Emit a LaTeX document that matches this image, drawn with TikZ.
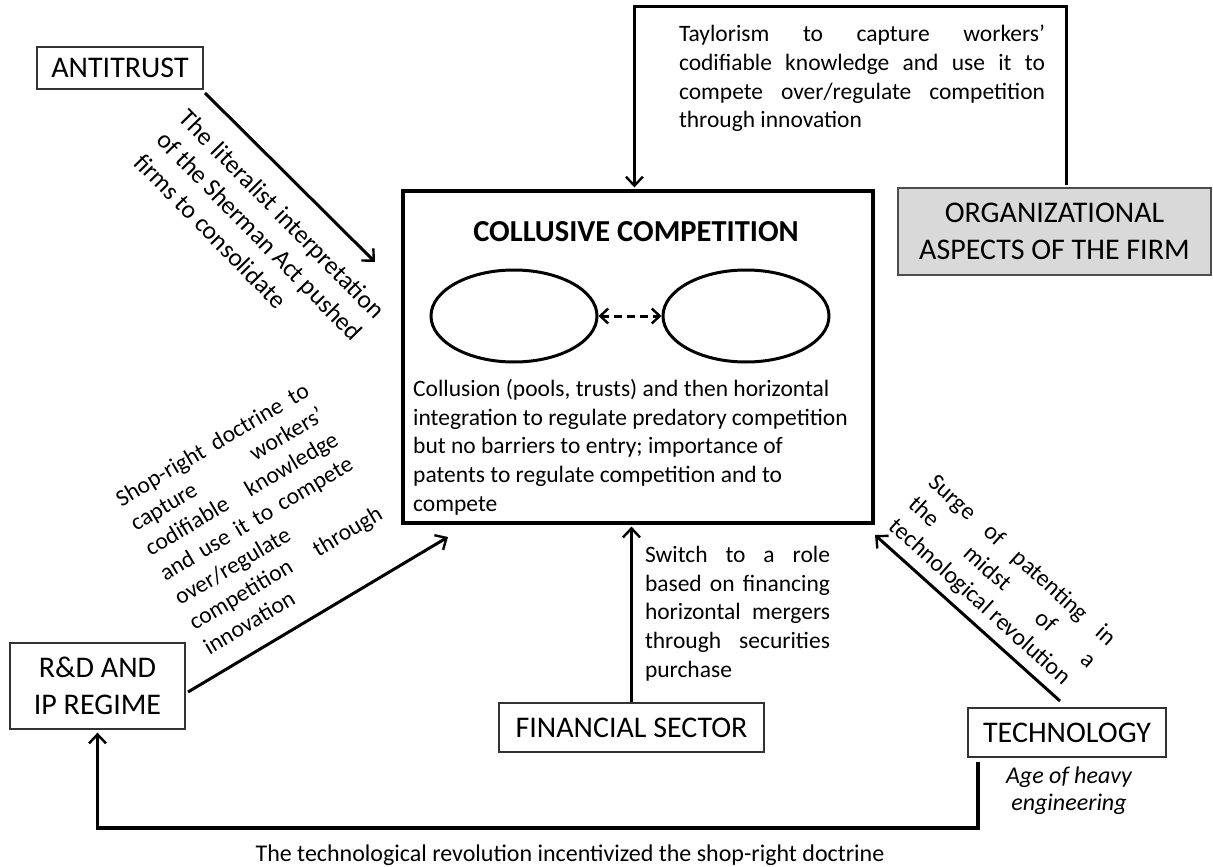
\documentclass[tikz,border=0pt]{standalone}
\usepackage{fontspec}
\setmainfont{Carlito}
\usetikzlibrary{arrows.meta,shapes.geometric,calc}
% one justified line of a fixed width
\newcommand{\jl}[2]{\makebox[#1][s]{#2}}

\begin{document}
\begin{tikzpicture}[x=1pt,y=-1pt,
  box/.style={draw=black!80, line width=1.3pt, inner sep=0pt, align=center,
    font=\fontsize{30}{37}\selectfont, text=black},
  link/.style={line width=3pt, draw=black,
    -{Straight Barb[length=9pt,width=17pt,line width=2.4pt]}},
  body/.style={inner sep=0pt, align=left, text=black,
    font=\fontsize{23.5}{28.7}\selectfont},
  firm/.style={draw=black, line width=3pt, ellipse, minimum width=166pt,
    minimum height=92pt, inner sep=0pt}
]
\useasboundingbox (0,0) rectangle (1213,867);

% ---------- boxes ----------
\node[box, minimum width=166pt, minimum height=42pt] (anti) at (120,68) {ANTITRUST};
\node[box, fill=black!15, draw=black!70, minimum width=313pt, minimum height=87pt]
  (org) at (1054.5,231.5) {ORGANIZATIONAL\\ASPECTS OF THE FIRM};
\node[draw=black, line width=3.2pt, minimum width=470pt, minimum height=332pt,
  inner sep=0pt] (central) at (638,357) {};
\node[box, minimum width=175pt, minimum height=86pt] (rd) at (97.5,686) {R\&D AND\\IP REGIME};
\node[box, minimum width=265pt, minimum height=49pt] (fin) at (631.5,727.5) {FINANCIAL SECTOR};
\node[box, minimum width=198pt, minimum height=49pt] (tech) at (1067,732.5) {TECHNOLOGY};

% ---------- inside the central box ----------
\node[inner sep=0pt, font=\fontsize{30.5}{36}\selectfont\bfseries, text=black]
  (title) at (636,232) {COLLUSIVE COMPETITION};
\node[firm] (f1) at (514,316) {};
\node[firm] (f2) at (746,316) {};
\draw[line width=3pt, draw=black, dash pattern=on 8pt off 5pt,
  {Straight Barb[length=8pt,width=15pt,line width=2.4pt]}-{Straight Barb[length=8pt,width=15pt,line width=2.4pt]}]
  (f1.east) -- (f2.west);
\node[body, anchor=west] (coll) at (413,447) {Collusion (pools, trusts) and then horizontal\\
integration to regulate predatory competition\\
but no barriers to entry; importance of\\
patents to regulate competition and to\\
compete};

% ---------- connectors ----------
\coordinate (antiout) at (205,93);
\coordinate (antiin) at (375,262);
\draw[link] (antiout) -- (antiin);

\coordinate (rdout) at (188,692);
\coordinate (rdin) at (448,537);
\draw[link] (rdout) -- (rdin);

\coordinate (techout) at (1060,701);
\coordinate (techin) at (875,535);
\draw[link] (techout) -- (techin);

\draw[link] (fin.north) -- ($(fin.north |- central.south)+(0,2)$);

\coordinate (orgout) at (1066,185);
\coordinate (orgtop) at (1066,7);
\draw[link] (orgout) -- (orgtop) -| ($(central.north west)+(233,-2)$);

\coordinate (techdown) at (978,762);
\coordinate (bottom) at (978,828);
\draw[link, line width=3.5pt] (techdown) -- (bottom) -| ($(rd.south)+(0,3)$);

% ---------- connector labels ----------
\node[body, rotate=-45.5, font=\fontsize{25.5}{31.5}\selectfont] (antilab) at (260,236)
  {\jl{281pt}{The literalist interpretation}\\
   \jl{281pt}{of the Sherman Act pushed}\\
   firms to consolidate};

\node[body, rotate=30.7] (rdlab) at (256,518)
  {\jl{220pt}{Shop-right doctrine to}\\
   \jl{220pt}{capture workers'}\\
   \jl{220pt}{codifiable knowledge}\\
   \jl{220pt}{and use it to compete}\\
   over/regulate\\
   \jl{220pt}{competition through}\\
   innovation};

\node[body, rotate=-42, font=\fontsize{24}{29.5}\selectfont] (techlab) at (1002,583)
  {\jl{243pt}{Surge of patenting in}\\
   \jl{243pt}{the midst of a}\\
   technological revolution};

\node[body] (taylab) at (862,78.5)
  {\jl{366pt}{Taylorism to capture workers'}\\
   \jl{366pt}{codifiable knowledge and use it to}\\
   \jl{366pt}{compete over/regulate competition}\\
   through innovation};

\node[body] (finlab) at (737.5,613.5)
  {\jl{185pt}{Switch to a role}\\
   \jl{185pt}{based on financing}\\
   \jl{185pt}{horizontal mergers}\\
   \jl{185pt}{through securities}\\
   purchase};

\node[body, align=center, font=\fontsize{24}{27}\selectfont\itshape] (age) at (1069,791)
  {Age of heavy\\engineering};

\node[body, font=\fontsize{24}{28}\selectfont] (botlab) at (570,855)
  {The technological revolution incentivized the shop-right doctrine};
\end{tikzpicture}
\end{document}
